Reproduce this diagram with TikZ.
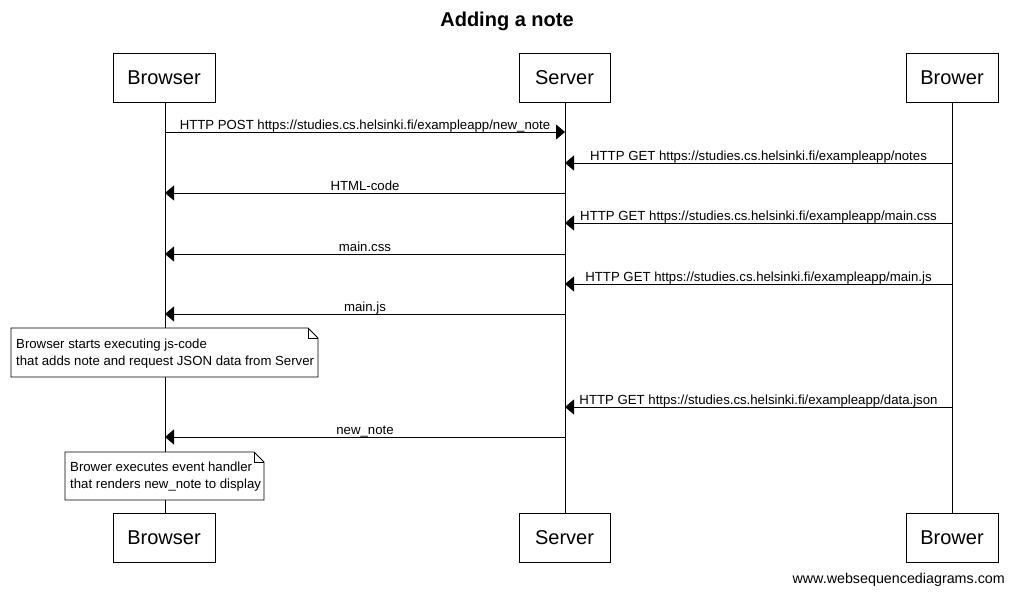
\documentclass[tikz,border=0pt]{standalone}
\usepackage{fontspec}
\setmainfont{Liberation Sans}
\usetikzlibrary{arrows.meta,calc}
\begin{document}
\begin{tikzpicture}[x=1pt,y=-1pt,
  actor/.style={draw,line width=0.8pt,fill=white,minimum height=49pt,inner sep=0pt,font=\fontsize{20}{24}\selectfont,anchor=center},
  msg/.style={line width=0.8pt,-{Triangle[length=9pt,width=15pt]}},
  lbl/.style={font=\fontsize{13.2}{15}\selectfont,inner sep=0pt,anchor=base},
  life/.style={line width=0.8pt},
  notetxt/.style={font=\fontsize{13.2}{17.5}\selectfont,align=left,anchor=north west,inner sep=0pt}]
\useasboundingbox (0,0) rectangle (1013,597);
\fill[white] (0,0) rectangle (1013,597);
\node[font=\bfseries\fontsize{20}{24}\selectfont] (title) at (507,21) {Adding a note};
% actors
\node[actor,minimum width=102pt] (bt) at (164,77.5) {Browser};
\node[actor,minimum width=91pt] (st) at (564.5,77.5) {Server};
\node[actor,minimum width=92pt] (wt) at (952,77.5) {Brower};
\node[actor,minimum width=102pt] (bb) at (164,537.5) {Browser};
\node[actor,minimum width=91pt] (sb) at (564.5,537.5) {Server};
\node[actor,minimum width=92pt] (wb) at (952,537.5) {Brower};
% lifelines
\coordinate (bx) at (165,0);
\coordinate (sx) at (565,0);
\coordinate (wx) at (952,0);
\draw[life] (bx |- bt.south) -- (bx |- bb.north);
\draw[life] (sx |- st.south) -- (sx |- sb.north);
\draw[life] (wx |- wt.south) -- (wx |- wb.north);
% messages
\foreach \y/\from/\to/\txt in {
  132/bx/sx/{HTTP POST https://studies.cs.helsinki.fi/exampleapp/new\_note},
  163/wx/sx/{HTTP GET https://studies.cs.helsinki.fi/exampleapp/notes},
  193/sx/bx/{HTML-code},
  223/wx/sx/{HTTP GET https://studies.cs.helsinki.fi/exampleapp/main.css},
  254/sx/bx/{main.css},
  284/wx/sx/{HTTP GET https://studies.cs.helsinki.fi/exampleapp/main.js},
  314/sx/bx/{main.js},
  407/wx/sx/{HTTP GET https://studies.cs.helsinki.fi/exampleapp/data.json},
  437/sx/bx/{new\_note}}{
  \draw[msg] ($(\from)+(0,\y)$) -- ($(\to)+(0,\y)$)
    node[lbl,pos=0.5,yshift=3pt] {\txt};
}
% notes
\draw[line width=0.8pt,fill=white] (11,328) -- (308,328) -- (318,338) -- (318,377) -- (11,377) -- cycle;
\draw[line width=0.8pt] (308,328) -- (308,338) -- (318,338);
\node[notetxt] (n1) at (16,338.5) {Browser starts executing js-code\\that adds note and request JSON data from Server};
\draw[line width=0.8pt,fill=white] (65,452) -- (254,452) -- (264,462) -- (264,500) -- (65,500) -- cycle;
\draw[line width=0.8pt] (254,452) -- (254,462) -- (264,462);
\node[notetxt] (n2) at (70,461.5) {Brower executes event handler\\that renders new\_note to display};
% footer
\node[font=\fontsize{14.3}{16}\selectfont,anchor=east,inner sep=0pt] (foot) at (1005,580) {www.websequencediagrams.com};
\end{tikzpicture}
\end{document}
